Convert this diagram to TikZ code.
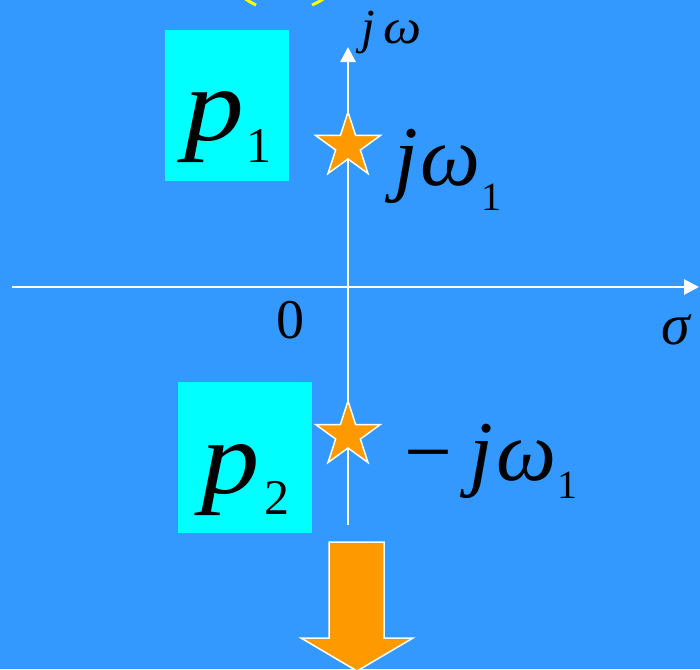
\documentclass[tikz,border=0pt]{standalone}
\usepackage{fontspec}
\setmainfont{Liberation Serif}
\usetikzlibrary{arrows.meta,shapes.geometric}
\definecolor{bgblue}{RGB}{51,153,255}
\definecolor{boxcyan}{RGB}{0,255,255}
\definecolor{starorange}{RGB}{255,153,0}
\definecolor{markyellow}{RGB}{255,255,0}
\tikzset{
  axis/.style={white, line width=2.7pt, -{Triangle[width=15pt,length=15pt]}},
  polebox/.style={fill=boxcyan},
  lbl/.style={inner sep=0pt, outer sep=0pt, anchor=base west, text=black},
  polestar/.style={star, star points=5, star point ratio=2.618, minimum size=68pt, inner sep=0pt, fill=starorange, draw=white, line width=1.5pt},
  bigarrow/.style={fill=starorange, draw=white, line width=1.5pt, line join=miter},
  yel/.style={markyellow, line width=3pt}
}
\begin{document}
\begin{tikzpicture}[x=1pt,y=-1pt]
\useasboundingbox (0,0) rectangle (700,669);
\clip (0,0) rectangle (700,669);
\fill[bgblue] (0,0) rectangle (700,669);
% yellow fragments at top
\draw[yel] (243,-3) to[bend right=6] (256,5);
\draw[yel] (312,5) to[bend right=6] (326,-3);
% pole boxes
\fill[polebox] (165,30) rectangle (289,181);
\fill[polebox] (178,382) rectangle (312,533);
% axes
\coordinate (xs) at (12,287);
\coordinate (xe) at (699,287);
\coordinate (ys) at (348,525);
\coordinate (ye) at (348,47);
\draw[axis] (xs) -- (xe);
\draw[axis] (ys) -- (ye);
% stars
\node[polestar] (s1) at (348,146) {};
\node[polestar] (s2) at (348,435) {};
% big down arrow
\draw[bigarrow] (329,542) -- (384,542) -- (384,638) -- (413,638) -- (357,671) -- (301,638) -- (329,638) -- cycle;
% labels
\node[lbl] (p1lab) at (184,140) {\fontsize{104}{104}\selectfont\itshape \scalebox{1.15}[1]{p}\hspace{3pt}\raisebox{-22pt}{\fontsize{50}{50}\selectfont\upshape 1}};
\node[lbl] (p2lab) at (201,493) {\fontsize{104}{104}\selectfont\itshape \scalebox{1.12}[1]{p}\hspace{5pt}\raisebox{-21pt}{\fontsize{50}{50}\selectfont\upshape 2}};
\node[lbl] (w1lab) at (394,185) {\fontsize{85}{85}\selectfont\itshape j\hspace{3pt}ω\hspace{1pt}\raisebox{-25pt}{\fontsize{40}{40}\selectfont\upshape 1}};
\node[lbl] (mw1lab) at (404,480) {\fontsize{85}{85}\selectfont −\hspace{18pt}\itshape j\hspace{3pt}ω\hspace{1pt}\raisebox{-18pt}{\fontsize{40}{40}\selectfont\upshape 1}};
\node[lbl] (zero) at (276,338) {\fontsize{56}{56}\selectfont 0};
\node[lbl] (sig) at (661,344) {\fontsize{58}{58}\selectfont\itshape σ};
\node[lbl] (jwlab) at (361,44) {\fontsize{49}{49}\selectfont\itshape j\hspace{9pt}\scalebox{1.1}[1]{ω}};
\end{tikzpicture}
\end{document}
